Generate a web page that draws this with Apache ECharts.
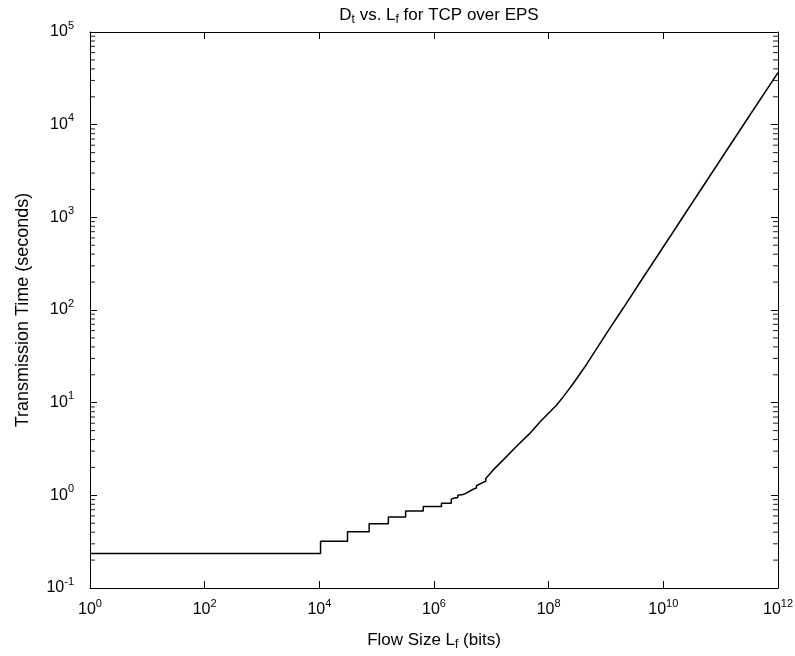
<!DOCTYPE html>
<html>
<head>
<meta charset="utf-8">
<script src="https://cdn.jsdelivr.net/npm/echarts@6/dist/echarts.min.js"></script>
<style>
html,body{margin:0;padding:0;background:#fff;}
#chart{width:795px;height:656px;}
</style>
</head>
<body>
<div id="chart"></div>
<script>
// Flow size (bits) and transmission time (seconds)
var flowSize = [
  1, 1.05e4, 1.05e4, 3.1e4, 3.1e4, 7.4e4, 7.4e4, 1.6e5, 1.6e5, 3.2e5, 3.2e5,
  6.5e5, 6.5e5, 1.35e6, 1.35e6, 2.0e6, 2.0e6, 2.2e6, 2.6e6, 2.6e6, 3.2e6, 3.6e6,
  3.6e6, 4.9e6, 5.5e6, 5.5e6, 7.2e6, 8.0e6, 8.0e6, 1.07e7, 1.6e7, 2.7e7, 4.7e7,
  7.1e7, 1.38e8, 1.82e8, 2.7e8, 4.6e8, 1.02e9, 2.0e9, 3.9e9, 7.6e9, 1.48e10,
  3.3e10, 2.8e11, 1e12
];
var transTime = [
  0.236, 0.236, 0.319, 0.319, 0.404, 0.404, 0.494, 0.494, 0.583, 0.583, 0.677,
  0.677, 0.76, 0.76, 0.82, 0.82, 0.91, 0.93, 0.95, 1.0, 1.02, 1.05,
  1.1, 1.17, 1.2, 1.27, 1.38, 1.42, 1.52, 1.87, 2.40, 3.34, 4.66,
  6.22, 9.44, 11.7, 16.2, 26, 56, 105, 198, 371, 695,
  1483, 11100, 36500
];
var xTicks = [1, 1e2, 1e4, 1e6, 1e8, 1e10, 1e12];
var yTicks = [1e-1, 1, 1e1, 1e2, 1e3, 1e4, 1e5];
var yMinor = [];
for (var k = -1; k < 5; k++) {
  for (var m = 2; m <= 9; m++) yMinor.push(m * Math.pow(10, k));
}

var FONT = 'Liberation Sans';
var rich = {
  b: {fontSize: 16, fontFamily: FONT, color: '#000'},
  e: {fontSize: 11, fontFamily: FONT, color: '#000', padding: [0, 0, 13, 0]}
};
function fmt(v) {
  var e = Math.round(Math.log10(v));
  return '{b|10}{e|' + e + '}';
}
var points = flowSize.map(function (x, i) { return [x, transTime[i]]; });

function xa(pos, show) {
  return {
    type: 'log', logBase: 10, min: 1, max: 1e12, position: pos, gridIndex: 0,
    axisLine: {show: true, onZero: false, lineStyle: {color: '#000', width: 1}},
    axisTick: {show: true, inside: true, length: 7, customValues: xTicks, lineStyle: {color: '#000'}},
    axisLabel: {show: show, customValues: xTicks, formatter: fmt, rich: rich, margin: 10},
    splitLine: {show: false}, minorTick: {show: false}
  };
}
function ya(pos, show) {
  return {
    type: 'log', logBase: 10, min: 0.1, max: 1e5, position: pos, gridIndex: 0,
    axisLine: {show: true, onZero: false, lineStyle: {color: '#000', width: 1}},
    axisTick: {show: true, inside: true, length: 7, customValues: yTicks, lineStyle: {color: '#000'}},
    axisLabel: {show: show, customValues: yTicks, formatter: fmt, rich: rich, margin: 16},
    splitLine: {show: false}, minorTick: {show: false}
  };
}

var chart = echarts.init(document.getElementById('chart'), null, {renderer: 'canvas'});
var xA = xa('bottom', true);
xA.name = '{n|Flow Size L}{s|f}{n| (bits)}';
xA.nameLocation = 'middle';
xA.nameGap = 42;
xA.nameTextStyle = {rich: {
  n: {fontSize: 17, fontFamily: FONT, color: '#000'},
  s: {fontSize: 12, fontFamily: FONT, color: '#000', padding: [9, 0, 0, 0]}
}};
var yA = ya('left', true);
yA.name = 'Transmission Time (seconds)';
yA.nameLocation = 'middle';
yA.nameGap = 58;
yA.nameTextStyle = {fontSize: 18, fontFamily: FONT, color: '#000'};

chart.setOption({
  animation: false,
  backgroundColor: '#fff',
  title: {
    text: '{n|D}{s|t}{n| vs. L}{s|f}{n| for TCP over EPS}',
    left: 434, top: 0, textAlign: 'center',
    textStyle: {fontWeight: 'normal', rich: {
      n: {fontSize: 17, fontFamily: FONT, color: '#000', fontWeight: 'normal'},
      s: {fontSize: 12, fontFamily: FONT, color: '#000', fontWeight: 'normal', padding: [9, 0, 0, 0]}
    }}
  },
  grid: {left: 90, right: 17, top: 32, bottom: 68, containLabel: false, outerBoundsMode: 'none'},
  xAxis: [xA, xa('top', false)],
  yAxis: [yA, ya('right', false)],
  series: [{
    type: 'line', xAxisIndex: 0, yAxisIndex: 0, data: points,
    showSymbol: false, symbol: 'none',
    lineStyle: {color: '#000', width: 1.5}
  }, {
    // minor (2..9) log ticks drawn as short inward dashes on the left frame
    type: 'scatter', xAxisIndex: 0, yAxisIndex: 0, silent: true,
    data: yMinor.map(function (v) { return [1, v]; }),
    symbol: 'rect', symbolSize: [5, 1.1], symbolOffset: [2.5, 0],
    itemStyle: {color: '#000'}, clip: false, z: 3
  }, {
    // and on the right frame
    type: 'scatter', xAxisIndex: 0, yAxisIndex: 0, silent: true,
    data: yMinor.map(function (v) { return [1e12, v]; }),
    symbol: 'rect', symbolSize: [5, 1.1], symbolOffset: [-2.5, 0],
    itemStyle: {color: '#000'}, clip: false, z: 3
  }]
});
</script>
</body>
</html>
